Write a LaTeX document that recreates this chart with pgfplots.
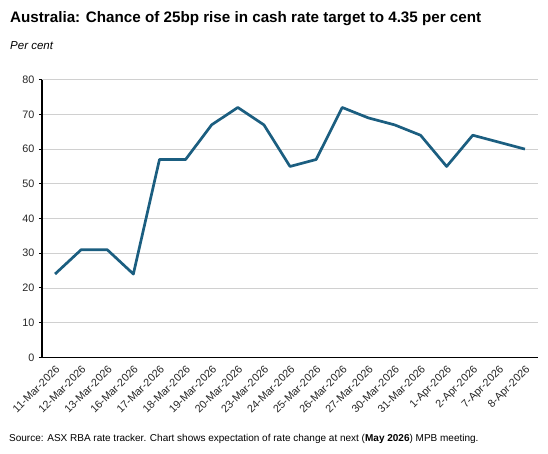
\documentclass[border=0pt]{standalone}
\usepackage{pgfplots}
\pgfplotsset{compat=1.18}
\usepackage{fontspec}
\setmainfont{Liberation Sans}
\definecolor{linec}{HTML}{1B5E80}
\definecolor{gridc}{HTML}{D0D0D0}
\begin{document}
\begin{tikzpicture}[x=1pt,y=1pt]
\useasboundingbox (-42,-96.7) rectangle (506,357.3);
\begin{axis}[
  scale only axis,
  width=496pt, height=277.6pt,
  xmin=-0.5, xmax=18.5, ymin=0, ymax=80,
  ytick={0,10,...,80},
  xtick={0,...,18},
  xticklabels={11-Mar-2026,12-Mar-2026,13-Mar-2026,16-Mar-2026,17-Mar-2026,18-Mar-2026,19-Mar-2026,20-Mar-2026,23-Mar-2026,24-Mar-2026,25-Mar-2026,26-Mar-2026,27-Mar-2026,30-Mar-2026,31-Mar-2026,1-Apr-2026,2-Apr-2026,7-Apr-2026,8-Apr-2026},
  axis x line*=bottom, axis y line*=left,
  axis line style={black, line width=1.3pt, -},
  ymajorgrids, grid style={gridc, line width=0.7pt},
  x tick style={draw=none},
  y tick style={black, line width=1pt},
  major tick length=3pt,
  tick align=outside,
  ticklabel style={font=\fontsize{10.8}{12}\selectfont, text=black!85},
  xticklabel style={rotate=45, anchor=north east, inner sep=1pt, yshift=-2pt, xshift=-2pt},
  yticklabel style={xshift=-1pt},
  /pgf/number format/assume math mode=true,
  clip=false,
]
\addplot[linec, line width=2.7pt, line join=round] coordinates {
(0,24) (1,31) (2,31) (3,24) (4,57) (5,57) (6,67) (7,72) (8,67) (9,55)
(10,57) (11,72) (12,69) (13,67) (14,64) (15,55) (16,64) (17,62) (18,60)
};
\end{axis}
\node[anchor=base west, inner sep=0pt, font=\bfseries\fontsize{15.2}{17}\selectfont] at (-32,334.8) {Australia: Chance of 25bp rise in cash rate target to 4.35 per cent};
\node[anchor=base west, inner sep=0pt, font=\itshape\fontsize{11.5}{13}\selectfont] at (-32,307.5) {Per cent};
\node[anchor=base west, inner sep=0pt, font=\fontsize{10}{12}\selectfont] at (-33,-84) {Source: ASX RBA rate tracker. Chart shows expectation of rate change at next (\textbf{May 2026}) MPB meeting.};
\end{tikzpicture}
\end{document}
